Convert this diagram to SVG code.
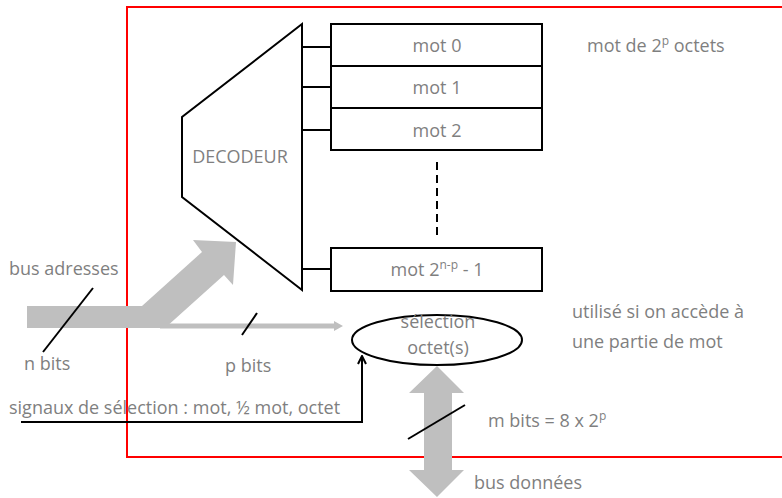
<svg xmlns="http://www.w3.org/2000/svg" width="782" height="498" viewBox="0 0 782 498">
<style>
  .t { font-family: "Open Sans", "Liberation Sans", sans-serif; font-size: 18px; fill: #7f7f7f; }
  .c { text-anchor: middle; }
  .box { fill: #ffffff; stroke: #000000; stroke-width: 2; }
  .ln { fill: none; stroke: #000000; stroke-width: 2; }
  .bus { fill: #bfbfbf; stroke: none; }
  .sup { font-size: 12px; }
</style>
<defs>
  <marker id="arr" viewBox="0 0 10 10" refX="9" refY="5" markerWidth="10" markerHeight="10" markerUnits="userSpaceOnUse" orient="auto">
    <path d="M1,1 L9,5 L1,9" fill="none" stroke="#000" stroke-width="2"/>
  </marker>
</defs>
<rect id="memory-frame" x="127" y="7" width="670" height="450" fill="none" stroke="#ff0000" stroke-width="2"/>

<g id="connectors">
  <line class="ln" x1="302" y1="47" x2="331" y2="47"/>
  <line class="ln" x1="302" y1="87" x2="331" y2="87"/>
  <line class="ln" x1="302" y1="130" x2="331" y2="130"/>
  <line class="ln" x1="302" y1="269" x2="331" y2="269"/>
  <line x1="437" y1="162" x2="437" y2="238" stroke="#000" stroke-width="2" stroke-dasharray="8,5"/>
  <polygon id="address-bus" class="bus" points="27,306 142,306 202,252 193,240 236,242 233,285 224,275 165,328 27,328"/>
  <polygon id="p-bits-bus" class="bus" points="160,323.5 334,323.5 334,321 343,326 334,331 334,328.5 160,328.5"/>
  <polygon id="data-bus" class="bus" points="437,366 464,393 452,393 452,470 464,470 437,497 409,470 424,470 424,393 409,393"/>
  <polyline class="ln" points="21,422 362,422 362,356" marker-end="url(#arr)"/>
  <line class="ln" x1="93" y1="288" x2="43" y2="352"/>
  <line class="ln" x1="257" y1="313" x2="242" y2="335"/>
  <line class="ln" x1="465" y1="405" x2="408" y2="439"/>
</g>

<g id="decodeur">
  <polygon class="box" points="302,24 182,117 182,197 302,290"/>
  <text class="t c" x="240" y="163">DECODEUR</text>
</g>
<g id="mot0">
  <rect class="box" x="331" y="24" width="211" height="42"/>
  <text class="t c" x="437" y="52">mot 0</text>
</g>
<g id="mot1">
  <rect class="box" x="331" y="66" width="211" height="42"/>
  <text class="t c" x="437" y="94">mot 1</text>
</g>
<g id="mot2">
  <rect class="box" x="331" y="108" width="211" height="42"/>
  <text class="t c" x="437" y="137">mot 2</text>
</g>
<g id="motlast">
  <rect class="box" x="331" y="248" width="211" height="43"/>
  <text class="t c" x="437" y="276">mot 2<tspan class="sup" dy="-7">n-p</tspan><tspan dy="7"> - 1</tspan></text>
</g>
<g id="selection">
  <ellipse class="box" cx="437" cy="340" rx="85" ry="25"/>
  <text class="t c" x="438" y="328">sélection</text>
  <text class="t c" x="438" y="354">octet(s)</text>
</g>

<g id="labels">
  <text class="t" x="587" y="52">mot de 2<tspan class="sup" dy="-7">p</tspan><tspan dy="7"> octets</tspan></text>
  <text class="t" x="572" y="318">utilisé si on accède à</text>
  <text class="t" x="572" y="348">une partie de mot</text>
  <text class="t" x="9" y="275">bus adresses</text>
  <text class="t" x="24" y="370">n bits</text>
  <text class="t" x="225" y="372">p bits</text>
  <text class="t" x="9" y="414">signaux de sélection : mot, ½ mot, octet</text>
  <text class="t" x="488" y="427">m bits = 8 x 2<tspan class="sup" dy="-7">p</tspan></text>
  <text class="t" x="474" y="489">bus données</text>
</g>
</svg>
